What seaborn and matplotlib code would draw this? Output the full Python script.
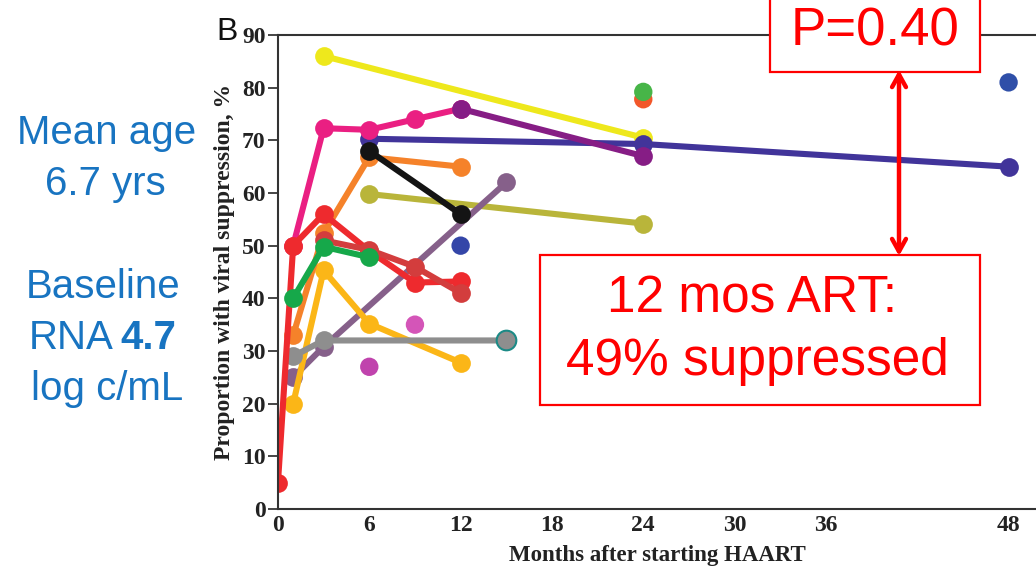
import matplotlib
matplotlib.use("Agg")
import matplotlib.pyplot as plt
import seaborn as sns
import pandas as pd
from matplotlib.patches import Rectangle

# ---------------- data ----------------
yellow_x = [3, 24];              yellow_y = [86, 70.5]
olive_x = [6, 24];               olive_y = [59.8, 54.2]
indigo_x = [6, 24, 48];          indigo_y = [70.3, 69.3, 65]
pink_x = [1, 3, 6, 9, 12];       pink_y = [50, 72.3, 72, 74, 76]
purple_x = [12, 24];             purple_y = [76, 67]
mauve_x = [1, 3, 15];            mauve_y = [25, 30.8, 62]
amber_x = [1, 3, 6, 12];         amber_y = [20, 45.3, 35.2, 27.8]
gray_x = [1, 3, 15];             gray_y = [29, 32, 32]
orange_x = [1, 3, 6, 12];        orange_y = [33, 52.4, 66.8, 65]
red_x = [0, 1, 3, 6, 9, 12];     red_y = [5, 50, 56, 49, 43, 43.2]
darkred_x = [3, 6, 9, 12];       darkred_y = [51, 49.2, 46, 41]
green_x = [1, 3, 6];             green_y = [40, 49.8, 47.8]
black_x = [6, 12];               black_y = [68, 56]

single_x = [12, 6, 9, 24, 24, 48]
single_y = [50, 27, 35, 77.8, 79.2, 81]
single_c = ["#3446a8", "#c043ad", "#d455b8", "#f2572a", "#47b548", "#2f4fa8"]

x_ticks = [0, 6, 12, 18, 24, 30, 36, 48]
y_ticks = [0, 10, 20, 30, 40, 50, 60, 70, 80, 90]

series = [
    (yellow_x, yellow_y, "#eee81c"),
    (olive_x, olive_y, "#b9b53a"),
    (indigo_x, indigo_y, "#41349a"),
    (pink_x, pink_y, "#ea1f82"),
    (purple_x, purple_y, "#861d85"),
    (mauve_x, mauve_y, "#86608a"),
    (amber_x, amber_y, "#fbb617"),
    (gray_x, gray_y, "#8e8e8e"),
    (orange_x, orange_y, "#f5822a"),
    (red_x, red_y, "#ee2a2e"),
    (darkred_x, darkred_y, "#d33d3d"),
    (green_x, green_y, "#16a84a"),
    (black_x, black_y, "#141414"),
]

# ---------------- figure ----------------
sns.set_style("white")
plt.rcParams["font.family"] = ["Liberation Serif", "DejaVu Serif"]

fig = plt.figure(figsize=(10.36, 5.71), dpi=100)
ax = fig.add_axes([0.2683, 0.1086, 0.7317, 0.8301])

for xs, ys, col in series:
    df = pd.DataFrame({"x": xs, "y": ys})
    sns.lineplot(data=df, x="x", y="y", ax=ax, color=col, lw=4.4,
                 marker="o", markersize=13.5, markeredgewidth=0,
                 sort=False, estimator=None)

# teal-edged final gray point
sns.scatterplot(x=[gray_x[-1]], y=[gray_y[-1]], ax=ax, s=200,
                color="#8e8e8e", edgecolor="#1c8a86", linewidth=1.5, zorder=5)

sns.scatterplot(x=single_x, y=single_y, ax=ax, hue=list(range(len(single_x))),
                palette=single_c, s=175, linewidth=0, legend=False, zorder=5)

ax.set_xlim(0, 49.8)
ax.set_ylim(0, 90)
ax.set_xticks(x_ticks)
ax.set_yticks(y_ticks)
ax.tick_params(axis="x", direction="in", length=7, width=1.2, labelsize=17, pad=4)
ax.tick_params(axis="y", direction="out", length=7, width=1.2, labelsize=17, pad=2,
               left=True)
for lab in ax.get_xticklabels() + ax.get_yticklabels():
    lab.set_fontweight("bold")
    lab.set_color("#222222")
for s in ["left", "bottom", "top"]:
    ax.spines[s].set_color("#333333")
    ax.spines[s].set_linewidth(1.5)
ax.spines["right"].set_visible(False)

ax.set_xlabel("Months after starting HAART", fontsize=16.5, fontweight="bold",
              color="#222222", labelpad=7)
ax.set_ylabel("Proportion with viral suppression, %", fontsize=17,
              fontweight="bold", color="#222222", labelpad=5)

# ---------------- annotations ----------------
W, H = 1036, 571
def fx(px): return px / W
def fy(py): return 1 - py / H

fig.text(fx(227), fy(32), "B", fontsize=23, family="Liberation Sans",
         ha="center", va="center", color="#111111")

blue = "#1874c1"
sans = ["Liberation Sans", "DejaVu Sans"]
fig.text(fx(107), fy(133), "Mean age", fontsize=29, family=sans, color=blue,
         ha="center", va="center")
fig.text(fx(105), fy(184), "6.7 yrs", fontsize=29, family=sans, color=blue,
         ha="center", va="center")
fig.text(fx(103), fy(287), "Baseline", fontsize=29, family=sans, color=blue,
         ha="center", va="center")
fig.text(fx(114), fy(338), "RNA", fontsize=29, family=sans, color=blue,
         ha="right", va="center")
fig.text(fx(120), fy(338), "4.7", fontsize=29, family=sans, color=blue,
         ha="left", va="center", fontweight="bold")
fig.text(fx(107), fy(389), "log c/mL", fontsize=29, family=sans, color=blue,
         ha="center", va="center")

red = "#ff0000"
fig.add_artist(Rectangle((fx(770), fy(72)), fx(980) - fx(770), fy(-20) - fy(72),
                         transform=fig.transFigure, fill=True, facecolor="white",
                         edgecolor=red, lw=1.6, zorder=10))
fig.text(fx(875), fy(32), "P=0.40", fontsize=38, family=sans, color=red,
         ha="center", va="center", zorder=11)

fig.add_artist(Rectangle((fx(540), fy(405)), fx(980) - fx(540), fy(255) - fy(405),
                         transform=fig.transFigure, fill=True, facecolor="white",
                         edgecolor=red, lw=1.6, zorder=10))
fig.text(fx(752), fy(299), "12 mos ART:", fontsize=37, family=sans, color=red,
         ha="center", va="center", zorder=11)
fig.text(fx(757), fy(362), "49% suppressed", fontsize=37, family=sans, color=red,
         ha="center", va="center", zorder=11)

ax.annotate("", xy=(fx(899), fy(70)), xytext=(fx(899), fy(256)),
            xycoords="figure fraction", textcoords="figure fraction",
            arrowprops=dict(arrowstyle="<->,head_length=0.9,head_width=0.5",
                            color=red, lw=3.2, shrinkA=0, shrinkB=0),
            zorder=12, annotation_clip=False)

fig.savefig("out.png", dpi=100)
